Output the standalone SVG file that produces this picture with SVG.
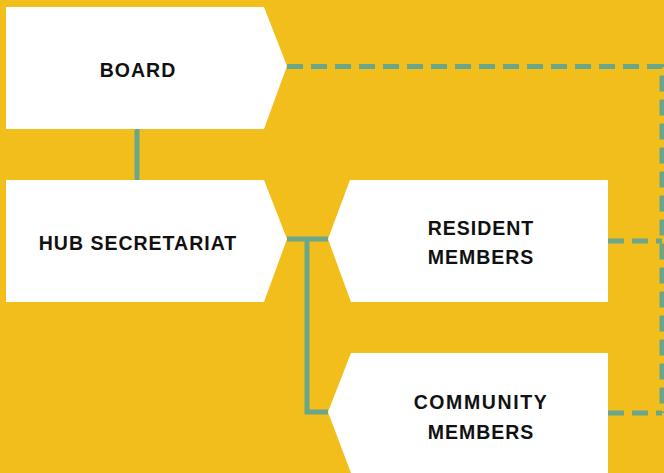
<svg xmlns="http://www.w3.org/2000/svg" width="664" height="473" viewBox="0 0 664 473">
<style>
.node{fill:#ffffff}
.lbl{font-family:"Liberation Sans",Arial,sans-serif;font-weight:bold;font-size:19.5px;letter-spacing:1px;fill:#111111;text-anchor:middle}
.solid{stroke:#6BA58A;stroke-width:5;fill:none}
.dash{stroke:#6BA58A;stroke-width:5;fill:none;stroke-dasharray:16 8}
</style>
<rect width="664" height="473" fill="#F2BE1C"/>
<g id="connectors">
<line class="solid" x1="137" y1="129" x2="137" y2="180"/>
<polyline class="solid" points="287,239 328,239"/>
<polyline class="solid" points="307,239 307,412 328,412"/>
<polyline class="dash" points="287,66.5 662,66.5 662,413"/>
<line class="dash" x1="608" y1="241" x2="662" y2="241"/>
<line class="dash" x1="608" y1="413" x2="662" y2="413"/>
</g>
<g id="board">
<polygon class="node" points="6,7 264,7 287,66 264,129 6,129"/>
<text class="lbl" x="138" y="77">BOARD</text>
</g>
<g id="hub-secretariat">
<polygon class="node" points="6,180 264,180 287,239 264,302 6,302"/>
<text class="lbl" x="138" y="250">HUB SECRETARIAT</text>
</g>
<g id="resident-members">
<polygon class="node" points="350,180 608,180 608,302 351,302 328,239"/>
<text class="lbl" x="481" y="235">RESIDENT</text>
<text class="lbl" x="481" y="264">MEMBERS</text>
</g>
<g id="community-members">
<polygon class="node" points="351,353 608,353 608,473 351,473 328,412"/>
<text class="lbl" x="481" y="409" style="letter-spacing:1.6px">COMMUNITY</text>
<text class="lbl" x="481" y="439">MEMBERS</text>
</g>
</svg>
